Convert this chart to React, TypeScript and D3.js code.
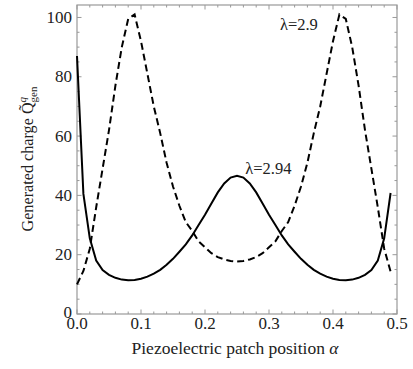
import React from "react";
import * as d3 from "d3";

const alphas: number[] = [
  0.0, 0.01, 0.02, 0.03, 0.04, 0.05, 0.06, 0.07, 0.08, 0.09,
  0.1, 0.11, 0.12, 0.13, 0.14, 0.15, 0.16, 0.17, 0.18, 0.19,
  0.2, 0.21, 0.22, 0.23, 0.24, 0.25, 0.26, 0.27, 0.28, 0.29,
  0.3, 0.31, 0.32, 0.33, 0.34, 0.35, 0.36, 0.37, 0.38, 0.39,
  0.4, 0.41, 0.42, 0.43, 0.44, 0.45, 0.46, 0.47, 0.48, 0.49,
];

// lambda = 2.9 (dashed)
const dashedValues: number[] = [
  10, 14.5, 22, 36, 49, 62, 77, 90, 99.5, 101,
  92, 81, 70, 61, 51, 43, 36.5, 31, 28, 24.5,
  22.5, 20.5, 19.2, 18.4, 17.9, 17.7, 17.9, 18.4, 19.2, 20.5,
  22.5, 24.5, 28, 31, 36.5, 43, 51, 61, 70, 81,
  92, 101, 99.5, 90, 77, 62, 49, 36, 22, 14.3,
];

// lambda = 2.94 (solid)
const solidValues: number[] = [
  87, 40.5, 25.5, 18, 14.8, 13.2, 12.2, 11.6, 11.4, 11.5,
  11.9, 12.6, 13.6, 14.9, 16.6, 18.6, 21, 23.5, 26.5, 30,
  33.5, 37.3, 41, 44, 46, 46.6, 46, 44, 41, 37.3,
  33.5, 30, 26.5, 23.5, 21, 18.6, 16.6, 14.9, 13.6, 12.6,
  11.9, 11.5, 11.4, 11.6, 12.2, 13.2, 14.8, 18, 25.5, 40.8,
];

const xTicks: number[] = [0, 0.1, 0.2, 0.3, 0.4, 0.5];
const yTicks: number[] = [0, 20, 40, 60, 80, 100];
const seriesLabels: string[] = ["λ=2.9", "λ=2.94"];

export default function App() {
  const W = 413, H = 369;
  const left = 77, right = 397, top = 5, bottom = 314;
  const x = d3.scaleLinear().domain([0, 0.5]).range([left, right]);
  const y = d3.scaleLinear().domain([0, 104.2]).range([bottom, top]);

  const line = d3
    .line<number>()
    .x((_, i) => x(alphas[i]))
    .y((d) => y(d));

  const xMinor = d3.range(0, 0.5001, 0.02).filter((v) => Math.abs(v * 10 - Math.round(v * 10)) > 1e-6);
  const yMinor = d3.range(0, 104, 5).filter((v) => v % 20 !== 0);
  const frameColor = "#999";
  const serif = { fontFamily: '"Liberation Serif"' };

  return (
    <svg width={W} height={H} style={{ position: "absolute", left: 0, top: 0 }}>
      <rect x={0} y={0} width={W} height={H} fill="#fff" />
      {/* frame */}
      <rect x={left} y={top} width={right - left} height={bottom - top} fill="none" stroke={frameColor} strokeWidth={1.2} />
      {/* major ticks */}
      {xTicks.map((t) => (
        <g key={"xt" + t}>
          <line x1={x(t)} x2={x(t)} y1={bottom} y2={bottom - 4.5} stroke={frameColor} />
          <line x1={x(t)} x2={x(t)} y1={top} y2={top + 4.5} stroke={frameColor} />
          <text x={x(t)} y={328.5} textAnchor="middle" style={serif} fontSize={17} fill="#222">
            {d3.format(".1f")(t)}
          </text>
        </g>
      ))}
      {xMinor.map((t) => (
        <g key={"xm" + t}>
          <line x1={x(t)} x2={x(t)} y1={bottom} y2={bottom - 2.5} stroke={frameColor} />
          <line x1={x(t)} x2={x(t)} y1={top} y2={top + 2.5} stroke={frameColor} />
        </g>
      ))}
      {yTicks.map((t) => (
        <g key={"yt" + t}>
          <line x1={left} x2={left + 4.5} y1={y(t)} y2={y(t)} stroke={frameColor} />
          <line x1={right} x2={right - 4.5} y1={y(t)} y2={y(t)} stroke={frameColor} />
          <text x={72} y={y(t) + (t === 0 ? 3.5 : 5.5)} textAnchor="end" style={serif} fontSize={17} fill="#222">
            {t}
          </text>
        </g>
      ))}
      {yMinor.map((t) => (
        <g key={"ym" + t}>
          <line x1={left} x2={left + 2.5} y1={y(t)} y2={y(t)} stroke={frameColor} />
          <line x1={right} x2={right - 2.5} y1={y(t)} y2={y(t)} stroke={frameColor} />
        </g>
      ))}
      {/* curves */}
      <path d={line(dashedValues) || ""} fill="none" stroke="#000" strokeWidth={2} strokeDasharray="7,4" />
      <path d={line(solidValues) || ""} fill="none" stroke="#000" strokeWidth={2} />
      {/* series labels */}
      <text x={x(0.317)} y={30} style={serif} fontSize={16.5} fill="#222">{seriesLabels[0]}</text>
      <text x={x(0.263)} y={174} style={serif} fontSize={16.5} fill="#222">{seriesLabels[1]}</text>
      {/* axis titles */}
      <text x={235} y={354} textAnchor="middle" style={serif} fontSize={17.5} fill="#222">
        Piezoelectric patch position <tspan fontStyle="italic">α</tspan>
      </text>
      <text transform="translate(33,159) rotate(-90)" textAnchor="middle" style={serif} fontSize={16.2} fill="#222">
        Generated  charge Q̃<tspan fontSize={11} fontStyle="italic" dy={-7}>q</tspan>
        <tspan fontSize={11} dx={-5.5} dy={11}>gen</tspan>
      </text>
    </svg>
  );
}
